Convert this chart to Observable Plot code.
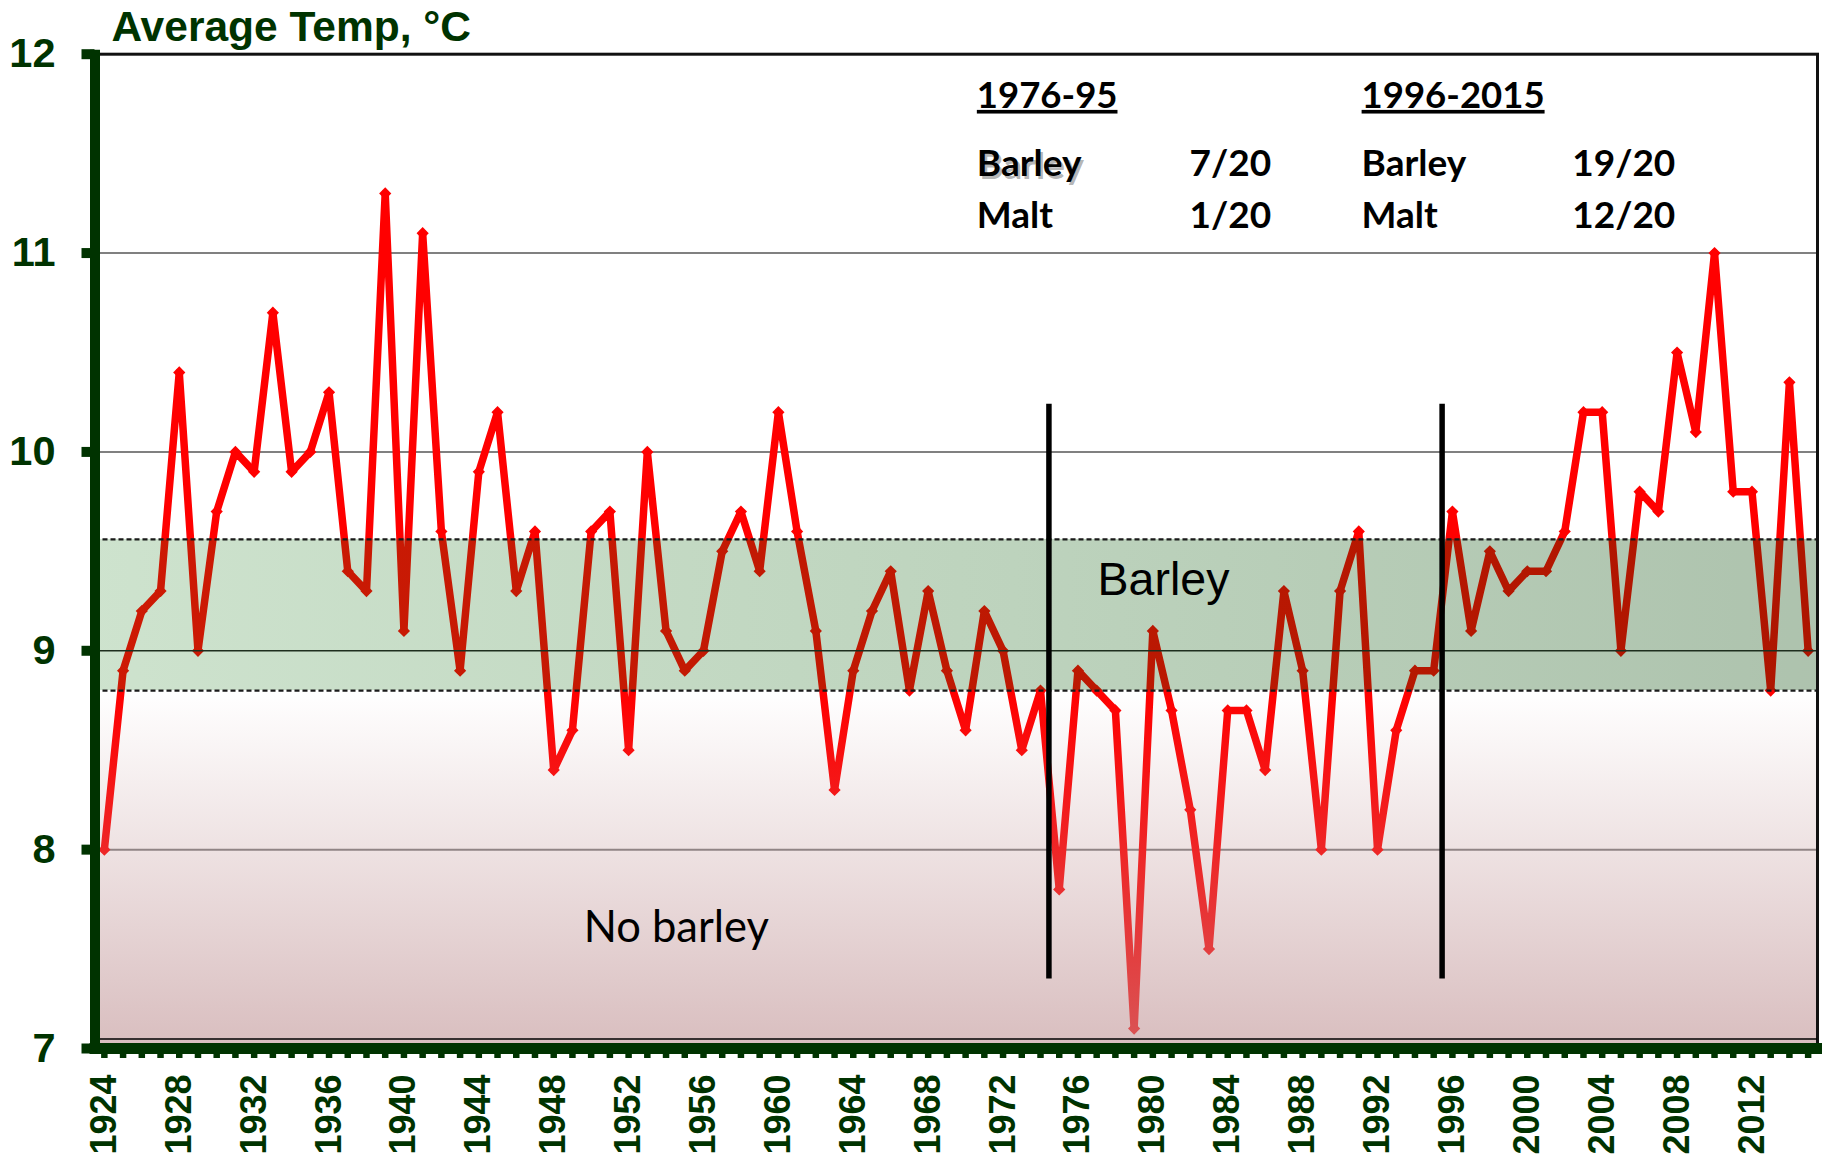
<!DOCTYPE html>
<html>
<head>
<meta charset="utf-8">
<script src="https://cdn.jsdelivr.net/npm/d3@7"></script>
<script src="https://cdn.jsdelivr.net/npm/@observablehq/plot@0.6"></script>
<style>
  html, body { margin: 0; padding: 0; background: #fff; overflow: hidden; }
  #chart svg g[aria-description="heading"] text {
    text-decoration: underline;
    text-decoration-thickness: 3px;
    text-underline-offset: 5px;
  }
</style>
</head>
<body>
<div id="chart"></div>
<script>
// ---- data ----
const years = d3.range(1924, 2016);
const temps = [
  8.0, 8.9, 9.2, 9.3, 10.4, 9.0, 9.7, 10.0, 9.9, 10.7,   // 1924-1933
  9.9, 10.0, 10.3, 9.4, 9.3, 11.3, 9.1, 11.1, 9.6, 8.9,  // 1934-1943
  9.9, 10.2, 9.3, 9.6, 8.4, 8.6, 9.6, 9.7, 8.5, 10.0,    // 1944-1953
  9.1, 8.9, 9.0, 9.5, 9.7, 9.4, 10.2, 9.6, 9.1, 8.3,     // 1954-1963
  8.9, 9.2, 9.4, 8.8, 9.3, 8.9, 8.6, 9.2, 9.0, 8.5,      // 1964-1973
  8.8, 7.8, 8.9, 8.8, 8.7, 7.1, 9.1, 8.7, 8.2, 7.5,      // 1974-1983
  8.7, 8.7, 8.4, 9.3, 8.9, 8.0, 9.3, 9.6, 8.0, 8.6,      // 1984-1993
  8.9, 8.9, 9.7, 9.1, 9.5, 9.3, 9.4, 9.4, 9.6, 10.2,     // 1994-2003
  10.2, 9.0, 9.8, 9.7, 10.5, 10.1, 11.0, 9.8, 9.8, 8.8,  // 2004-2013
  10.35, 9.0                                             // 2014-2015
];
const yTicks = [7, 8, 9, 10, 11, 12];
const gridValues = [8, 9, 10, 11];
const xTickLabels = d3.range(1924, 2013, 4);
const barleyBand = [8.8, 9.56];
const periodSplits = [1974.45, 1995.45];
const period1 = ["1976-95", "Barley", "Malt", "7/20", "1/20"];
const period2 = ["1996-2015", "Barley", "Malt", "19/20", "12/20"];

const rows = years.map((year, i) => ({year, temp: temps[i]}));
const xDomain = [1923.5, 2015.5];
const green = "#003300";
const gridOut = gridValues.filter(v => v < barleyBand[0] || v > barleyBand[1]);
const gridIn = gridValues.filter(v => v >= barleyBand[0] && v <= barleyBand[1]);

const defs = () => {
  const d = document.createElementNS("http://www.w3.org/2000/svg", "defs");
  d.innerHTML = `
    <linearGradient id="bandGrad" x1="0" x2="1" y1="0" y2="0">
      <stop offset="0" stop-color="rgb(20,120,20)" stop-opacity="0.21"/>
      <stop offset="1" stop-color="rgb(0,66,0)" stop-opacity="0.32"/>
    </linearGradient>
    <linearGradient id="lowGrad" x1="0" x2="0" y1="0" y2="1">
      <stop offset="0" stop-color="rgb(190,144,146)" stop-opacity="0"/>
      <stop offset="1" stop-color="rgb(190,144,146)" stop-opacity="0.59"/>
    </linearGradient>`;
  return d;
};

const annFont = "Lato, 'Open Sans', sans-serif";
const arial = "'Liberation Sans', Arial, sans-serif";
const ann = (text, x, y, extra = {}) => Plot.text([text], {
  x, y, textAnchor: "start", lineAnchor: "bottom",
  fontSize: 37, fontWeight: "bold", fill: "#000", fontFamily: annFont, ...extra
});

const chart = Plot.plot({
  width: 1830,
  height: 1156,
  marginLeft: 94.5,
  marginRight: 13,
  marginTop: 53.7,
  marginBottom: 108,
  style: {background: "#fff", fontFamily: arial, overflow: "visible"},
  x: {type: "linear", domain: xDomain, label: null},
  y: {domain: [7, 12], label: null},
  marks: [
    defs,
    Plot.ruleY(gridOut, {stroke: "#808080", strokeWidth: 2}),
    Plot.line(rows, {x: "year", y: "temp", stroke: "#ff0000", strokeWidth: 7.5, strokeLinejoin: "round"}),
    Plot.dot(rows, {x: "year", y: "temp", symbol: "diamond2", r: 5.5, fill: "#ff0000", stroke: "none"}),
    Plot.rect([{x1: xDomain[0], x2: xDomain[1], y1: barleyBand[0], y2: barleyBand[1]}],
      {x1: "x1", x2: "x2", y1: "y1", y2: "y2", fill: "url(#bandGrad)"}),
    Plot.rect([{x1: xDomain[0], x2: xDomain[1], y1: 7, y2: barleyBand[0]}],
      {x1: "x1", x2: "x2", y1: "y1", y2: "y2", fill: "url(#lowGrad)"}),
    Plot.ruleY(gridIn, {stroke: "#1e2e1e", strokeWidth: 1.5}),
    Plot.ruleY(barleyBand, {stroke: "#1a1a1a", strokeWidth: 2.2, strokeDasharray: "5,3"}),
    Plot.ruleX(periodSplits, {y1: 7.35, y2: 10.24, stroke: "#000", strokeWidth: 5.5}),
    Plot.frame({stroke: "#111", strokeWidth: 3}),
    Plot.ruleY([7], {dy: -9.5, stroke: "#000", strokeWidth: 1.5}),
    // axes
    Plot.axisX({ticks: years, tickSize: 10, tickFormat: () => "", color: green, strokeWidth: 6.5, label: null}),
    Plot.axisX({ticks: xTickLabels, tickSize: 0, tickPadding: 26, tickRotate: -90, tickFormat: d => String(d),
      fontSize: 36, fontWeight: "bold", color: green, label: null}),
    Plot.axisY({ticks: yTicks, tickSize: 13, tickFormat: () => "", color: green, strokeWidth: 10, label: null}),
    Plot.axisY({ticks: yTicks, tickSize: 0, tickPadding: 39.5, tickFormat: d => String(d),
      fontSize: 41.5, fontWeight: "bold", color: green, label: null}),
    Plot.ruleX([xDomain[0]], {stroke: green, strokeWidth: 10, insetTop: -4, insetBottom: -5}),
    Plot.ruleY([7], {stroke: green, strokeWidth: 11, insetLeft: -5, insetRight: -5}),
    // title
    Plot.text(["Average Temp, °C"], {frameAnchor: "top-left", dx: 16.5, dy: -13.7, lineAnchor: "bottom",
      textAnchor: "start", fontSize: 42.5, fontWeight: "bold", fill: green, fontFamily: arial}),
    // region labels
    Plot.text(["Barley"], {x: 1977.05, y: 9.28, textAnchor: "start", lineAnchor: "bottom",
      fontSize: 46.5, fill: "#000", fontFamily: arial}),
    Plot.text(["No barley"], {x: 1949.6, y: 7.536, textAnchor: "start", lineAnchor: "bottom",
      fontSize: 43.5, fill: "#000", fontFamily: annFont}),
    // period annotations
    ann(period1[0], 1970.6, 11.73, {fontSize: 36.5, ariaDescription: "heading"}),
    ann(period1[1], 1970.6, 11.385, {dx: 2.5, dy: 2.5, fillOpacity: 0.3}),
    ann(period1[1], 1970.6, 11.385),
    ann(period1[2], 1970.6, 11.124),
    ann(period1[3], 1981.96, 11.385),
    ann(period1[4], 1981.96, 11.124),
    ann(period2[0], 1991.15, 11.73, {fontSize: 36.5, ariaDescription: "heading"}),
    ann(period2[1], 1991.15, 11.385),
    ann(period2[2], 1991.15, 11.124),
    ann(period2[3], 2002.4, 11.385),
    ann(period2[4], 2002.4, 11.124)
  ]
});
document.getElementById("chart").appendChild(chart);
</script>
</body>
</html>
